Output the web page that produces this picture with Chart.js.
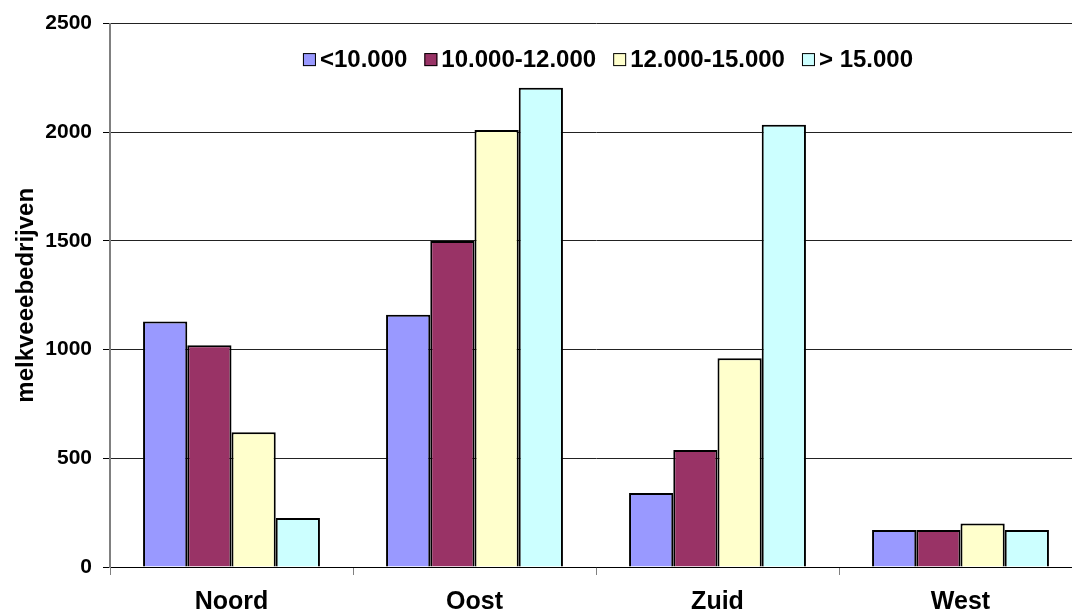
<!DOCTYPE html>
<html>
<head>
<meta charset="utf-8">
<script src="https://cdn.jsdelivr.net/npm/chart.js@4"></script>
<style>
  html, body { margin: 0; padding: 0; background: #fff; overflow: hidden; }
  #wrap { width: 1090px; height: 610px; }
</style>
</head>
<body>
<div id="wrap"><canvas id="grafiek" width="1090" height="610"></canvas></div>
<script>
const regios = ["Noord", "Oost", "Zuid", "West"];
const klassen = ["<10.000", "10.000-12.000", "12.000-15.000", "> 15.000"];
const kleuren = ["#9999FF", "#993366", "#FFFFCC", "#CCFFFF"];

const onder10 = [1130, 1160, 340, 170];
const van10tot12 = [1020, 1500, 538, 170];
const van12tot15 = [620, 2010, 960, 200];
const boven15 = [225, 2205, 2035, 170];

const yTicks = [0, 500, 1000, 1500, 2000, 2500];

const reeksen = [onder10, van10tot12, van12tot15, boven15];
const FONT = "Arial, 'Liberation Sans', sans-serif";

// legenda binnen het plotvlak, horizontaal in een rij
const legendaPlugin = {
  id: "legenda",
  afterDraw(chart) {
    const ctx = chart.ctx;
    const area = chart.chartArea;
    ctx.save();
    ctx.font = "bold 24px " + FONT;
    ctx.textBaseline = "middle";
    ctx.textAlign = "left";
    const box = 13, gap = 4, tussen = 17;
    const items = chart.data.datasets.map(d => ({
      tekst: d.label, kleur: d.backgroundColor, w: ctx.measureText(d.label).width
    }));
    let totaal = items.reduce((s, it) => s + box + gap + it.w, 0) + tussen * (items.length - 1);
    let x = (area.left + area.right) / 2 + 12 - totaal / 2;
    const y = area.top + 36;
    items.forEach(it => {
      ctx.fillStyle = it.kleur;
      ctx.fillRect(x, y - box / 2, box, box);
      ctx.strokeStyle = "#000";
      ctx.lineWidth = 1;
      ctx.strokeRect(x + 0.5, y - box / 2 + 0.5, box - 1, box - 1);
      ctx.fillStyle = "#000";
      ctx.fillText(it.tekst, x + box + gap, y + 1);
      x += box + gap + it.w + tussen;
    });
    ctx.restore();
  }
};

new Chart(document.getElementById("grafiek"), {
  type: "bar",
  data: {
    labels: regios,
    datasets: reeksen.map((r, i) => ({
      label: klassen[i],
      data: r,
      backgroundColor: kleuren[i],
      borderColor: "#000",
      borderWidth: 2,
      categoryPercentage: 0.728,
      barPercentage: 1
    }))
  },
  plugins: [legendaPlugin],
  options: {
    responsive: false,
    animation: false,
    layout: { padding: { top: 22, right: 8, left: 0, bottom: 0 } },
    plugins: {
      tooltip: { enabled: false },
      legend: { display: false }
    },
    scales: {
      x: {
        afterFit: s => { s.height = 43; },
        grid: {
          offset: true,
          drawOnChartArea: false,
          tickLength: 8,
          color: "#808080"
        },
        border: { color: "#000", width: 1 },
        ticks: {
          padding: 12,
          color: "#000",
          font: { family: FONT, size: 25, weight: "bold" }
        }
      },
      y: {
        min: 0,
        max: 2500,
        afterFit: s => { s.width = 110; },
        afterBuildTicks: s => { s.ticks = yTicks.map(v => ({ value: v })); },
        grid: { color: "#222", tickLength: 7, tickColor: "#000" },
        border: { color: "#808080", width: 2 },
        ticks: {
          padding: 11,
          color: "#000",
          callback: v => String(v),
          font: { family: FONT, size: 21, weight: "bold" }
        },
        title: {
          display: true,
          text: "melkveeebedrijven",
          color: "#000",
          padding: { top: 12, bottom: 0 },
          font: { family: FONT, size: 24, weight: "bold" }
        }
      }
    }
  }
});
</script>
</body>
</html>
